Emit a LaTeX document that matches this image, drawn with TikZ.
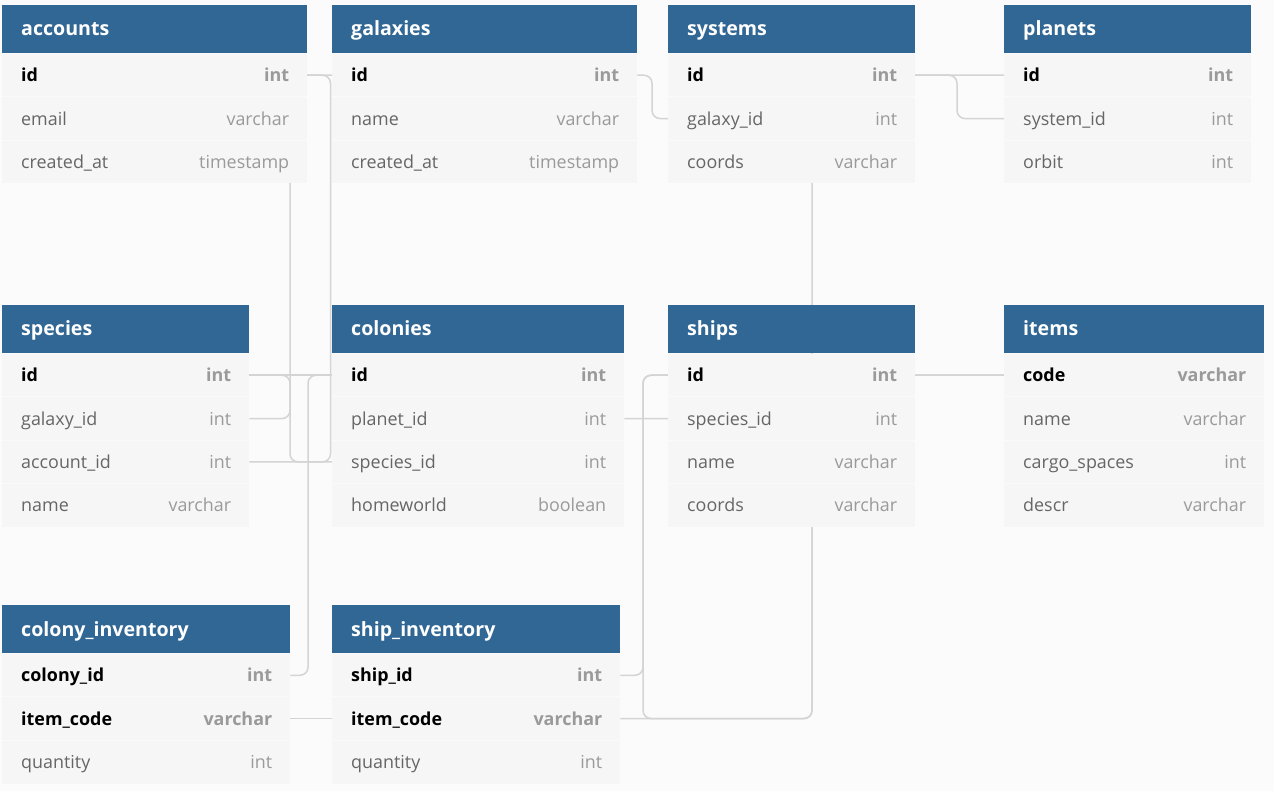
\documentclass[tikz,border=0pt]{standalone}
\usepackage{fontspec}
\setmainfont{Open Sans}
\usetikzlibrary{calc}
\definecolor{hdr}{HTML}{316795}
\definecolor{rowbg}{HTML}{F6F6F6}
\definecolor{pagebg}{HTML}{FBFBFB}
\definecolor{conn}{HTML}{D4D4D4}
\definecolor{fname}{HTML}{666666}
\definecolor{ftype}{HTML}{9A9A9A}
\definecolor{sepc}{HTML}{FAFAFA}
\pgfdeclarelayer{paper}
\pgfdeclarelayer{links}
\pgfsetlayers{paper,links,main}
\tikzset{
 hdrbox/.style={fill=hdr, draw=none, anchor=north west, minimum height=48pt, inner sep=0pt},
 rowbox/.style={fill=rowbg, draw=none, anchor=north west, minimum height=43.3pt, inner sep=0pt},
 ttl/.style={anchor=base west, text=white, font=\fontsize{19.6}{21}\selectfont\bfseries, inner sep=0pt},
 fld/.style={anchor=base west, text=fname, font=\fontsize{17.9}{20}\selectfont, inner sep=0pt},
 typ/.style={anchor=base east, text=ftype, font=\fontsize{17.9}{20}\selectfont, inner sep=0pt},
 keyfld/.style={fld, text=black, font=\fontsize{17.9}{20}\selectfont\bfseries},
 keytyp/.style={typ, font=\fontsize{17.9}{20}\selectfont\bfseries},
 sepline/.style={draw=sepc, line width=0.8pt},
 link/.style={draw=conn, line width=1.5pt, rounded corners=8pt},
}
\newcommand\dbtable[5]{% name, x, y, width, title
 \def\curname{#1}\def\curw{#4pt}
 \node[hdrbox, minimum width=#4pt] (#1-h) at (#2,#3) {};
 \node[ttl] (#1-title) at ($(#1-h.west)+(19,6.8)$) {#5};
}
\newcommand\dbrow[4]{% index, field, type, kind
 \node[rowbox, minimum width=\curw] (\curname-#1) at ($(\curname-h.south west)+(0,{43.3*(#1-1)})$) {};
 \ifnum#1>1 \draw[sepline] (\curname-#1.north west) -- (\curname-#1.north east);\fi
 \node[#4fld] (\curname-#1-f) at ($(\curname-#1.west)+(19,6.6)$) {#2};
 \node[#4typ] (\curname-#1-t) at ($(\curname-#1.east)+(-18,6.6)$) {#3};
}
\begin{document}
\begin{tikzpicture}[x=1pt,y=-1pt]
\useasboundingbox (0,0) rectangle (1274,791);
\begin{pgfonlayer}{paper}
\fill[pagebg] (0,0) rectangle (1274,791);
\end{pgfonlayer}

\dbtable{accounts}{2}{5}{305}{accounts}
\dbrow{1}{id}{int}{key}
\dbrow{2}{email}{varchar}{}
\dbrow{3}{created\_at}{timestamp}{}

\dbtable{galaxies}{332}{5}{305}{galaxies}
\dbrow{1}{id}{int}{key}
\dbrow{2}{name}{varchar}{}
\dbrow{3}{created\_at}{timestamp}{}

\dbtable{systems}{668}{5}{247}{systems}
\dbrow{1}{id}{int}{key}
\dbrow{2}{galaxy\_id}{int}{}
\dbrow{3}{coords}{varchar}{}

\dbtable{planets}{1004}{5}{247}{planets}
\dbrow{1}{id}{int}{key}
\dbrow{2}{system\_id}{int}{}
\dbrow{3}{orbit}{int}{}

\dbtable{species}{2}{305}{247}{species}
\dbrow{1}{id}{int}{key}
\dbrow{2}{galaxy\_id}{int}{}
\dbrow{3}{account\_id}{int}{}
\dbrow{4}{name}{varchar}{}

\dbtable{colonies}{332}{305}{292}{colonies}
\dbrow{1}{id}{int}{key}
\dbrow{2}{planet\_id}{int}{}
\dbrow{3}{species\_id}{int}{}
\dbrow{4}{homeworld}{boolean}{}

\dbtable{ships}{668}{305}{247}{ships}
\dbrow{1}{id}{int}{key}
\dbrow{2}{species\_id}{int}{}
\dbrow{3}{name}{varchar}{}
\dbrow{4}{coords}{varchar}{}

\dbtable{items}{1004}{305}{260}{items}
\dbrow{1}{code}{varchar}{key}
\dbrow{2}{name}{varchar}{}
\dbrow{3}{cargo\_spaces}{int}{}
\dbrow{4}{descr}{varchar}{}

\dbtable{colinv}{2}{605}{288}{colony\_inventory}
\dbrow{1}{colony\_id}{int}{key}
\dbrow{2}{item\_code}{varchar}{key}
\dbrow{3}{quantity}{int}{}

\dbtable{shipinv}{332}{605}{288}{ship\_inventory}
\dbrow{1}{ship\_id}{int}{key}
\dbrow{2}{item\_code}{varchar}{key}
\dbrow{3}{quantity}{int}{}

\coordinate (x290) at (290,0);
\coordinate (x308) at (308,0);
\coordinate (x331) at (330.5,0);
\coordinate (x643) at (643,0);
\coordinate (x652) at (652,0);
\coordinate (x812) at (812,0);
\coordinate (x957) at (957,0);

\begin{pgfonlayer}{links}
\draw[link] (accounts-1.east) -| (x331 |- species-3.east) -- (species-3.east);
\draw[link] (species-2.east) -| (x290 |- galaxies-1.west) -- (galaxies-1.west);
\draw[link] (species-1.east) -| (x290 |- colonies-3.west) -- (colonies-3.west);
\draw[link] (species-1.east) -- (colonies-1.west);
\draw[link] (colinv-1.east) -| (x308 |- colonies-1.west) -- (colonies-1.west);
\draw[link] (colinv-2.east) -- (shipinv-2.west);
\draw[link] (shipinv-1.east) -| (x643 |- ships-1.west) -- (ships-1.west);
\draw[link] (ships-1.west) -| (x643 |- shipinv-2.east) -| (x812 |- items-1.west) -- (items-1.west);
\draw[link] (shipinv-2.east) -| (x812 |- items-1.west) -- (items-1.west);
\draw[link] (colonies-2.east) -| (x812 |- planets-1.west) -- (planets-1.west);
\draw[link] (galaxies-1.east) -| (x652 |- systems-2.west) -- (systems-2.west);
\draw[link] (systems-1.east) -| (x957 |- planets-2.west) -- (planets-2.west);
\end{pgfonlayer}
\end{tikzpicture}
\end{document}
